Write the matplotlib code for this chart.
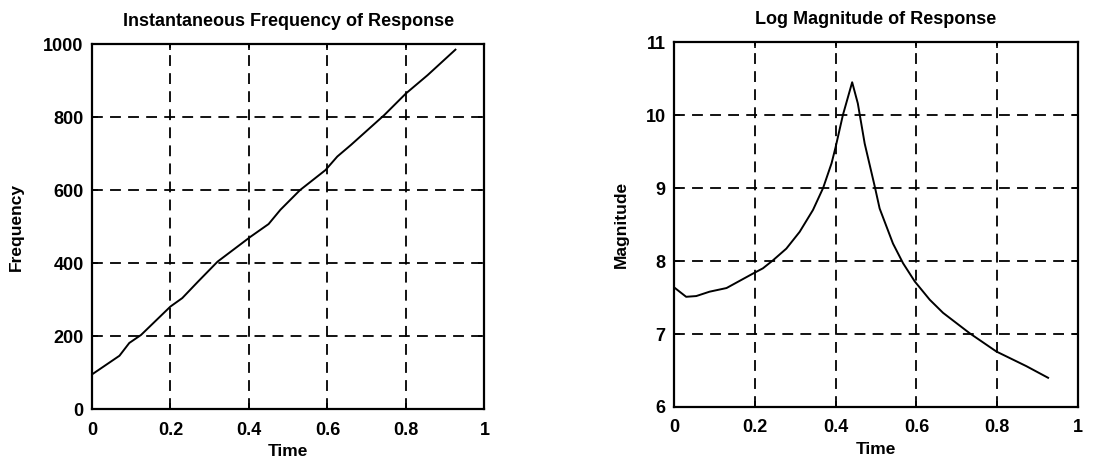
import numpy as np
import matplotlib
matplotlib.use("Agg")
import matplotlib.pyplot as plt

# instantaneous frequency of the response
freq_t = [0.003, 0.07, 0.095, 0.125, 0.2, 0.23, 0.27, 0.32, 0.405, 0.45, 0.48,
          0.53, 0.595, 0.625, 0.66, 0.745, 0.80, 0.855, 0.926]
freq_v = [97, 146, 181, 203, 281, 304, 349, 404, 473, 507, 546,
          600, 655, 692, 724, 806, 865, 915, 985]

# log magnitude of the response
mag_t = [0.0, 0.03, 0.055, 0.088, 0.13, 0.196, 0.22, 0.245, 0.278, 0.311, 0.344,
         0.369, 0.39, 0.40, 0.418, 0.441, 0.455, 0.472, 0.497, 0.509, 0.542,
         0.567, 0.596, 0.633, 0.666, 0.732, 0.798, 0.872, 0.926]
mag_v = [7.64, 7.51, 7.52, 7.58, 7.63, 7.83, 7.90, 8.01, 8.17, 8.40, 8.70,
         9.0, 9.34, 9.56, 10.0, 10.45, 10.16, 9.61, 9.02, 8.72, 8.24,
         7.97, 7.72, 7.47, 7.29, 7.01, 6.76, 6.56, 6.40]

time_ticks = [0, 0.2, 0.4, 0.6, 0.8, 1]
time_labels = ["0", "0.2", "0.4", "0.6", "0.8", "1"]

plt.rcParams.update({
    "font.family": "Liberation Sans",
    "font.weight": "bold",
    "font.size": 12,
})

fig = plt.figure(figsize=(11.15, 4.63), dpi=100)
ax1 = fig.add_axes([0.0825, 0.1166, 0.352, 0.788])
ax2 = fig.add_axes([0.6045, 0.121, 0.3623, 0.788])


def style_axes(ax):
    ax.grid(True, color="black", linestyle=(0, (6, 4)), linewidth=1.3)
    ax.tick_params(direction="in", length=4, width=1.2, top=True, right=True,
                   labelsize=13)
    ax.tick_params(axis="x", pad=9)
    ax.tick_params(axis="y", pad=6)
    for sp in ax.spines.values():
        sp.set_linewidth(1.6)
    ax.set_xticks(time_ticks)
    ax.set_xticklabels(time_labels)
    ax.set_xlim(0, 1)
    ax.set_xlabel("Time", fontsize=12.5, fontweight="bold", labelpad=4)


ax1.plot(freq_t, freq_v, color="black", linewidth=1.4)
ax1.set_ylim(0, 1000)
ax1.set_yticks([0, 200, 400, 600, 800, 1000])
style_axes(ax1)
ax1.set_ylabel("Frequency", fontsize=12.5, fontweight="bold", labelpad=14)
ax1.set_title("Instantaneous Frequency of Response", fontsize=13, fontweight="bold", pad=13)

ax2.plot(mag_t, mag_v, color="black", linewidth=1.4)
ax2.set_ylim(6, 11)
ax2.set_yticks([6, 7, 8, 9, 10, 11])
style_axes(ax2)
ax2.set_ylabel("Magnitude", fontsize=12.5, fontweight="bold", labelpad=12)
ax2.set_title("Log Magnitude of Response", fontsize=13, fontweight="bold", pad=13)

fig.savefig("out.png", dpi=100)
